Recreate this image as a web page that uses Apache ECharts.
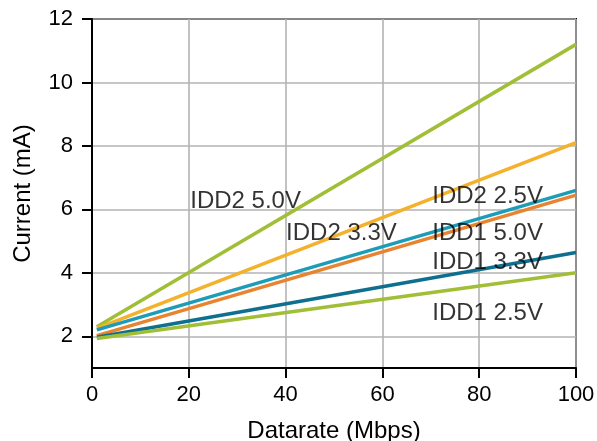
<!DOCTYPE html>
<html>
<head>
<meta charset="utf-8">
<script src="https://cdn.jsdelivr.net/npm/echarts@6/dist/echarts.min.js"></script>
<style>html,body{margin:0;padding:0;background:#fff}#c{width:597px;height:441px}</style>
</head>
<body>
<div id="c"></div>
<script>
var seriesNames = ['IDD2 5.0V', 'IDD2 3.3V', 'IDD2 2.5V', 'IDD1 5.0V', 'IDD1 3.3V', 'IDD1 2.5V'];
var datarates = [1, 100];
var idd2_50 = [2.3, 11.2];
var idd2_33 = [2.25, 8.1];
var idd2_25 = [2.2, 6.6];
var idd1_50 = [2.02, 6.45];
var idd1_33 = [1.97, 4.64];
var idd1_25 = [1.93, 4.0];
var seriesValues = [idd2_50, idd2_33, idd2_25, idd1_50, idd1_33, idd1_25];
var colors = ['#a1bf36', '#f4b22c', '#1d9cb8', '#e8842f', '#0e6f8f', '#a1bf36'];
var yTicks = [2, 4, 6, 8, 10, 12];
// label anchor positions (data coords) for annotations
var labelX = [20.3, 40.1, 70.3, 70.3, 70.3, 70.3];
var labelY = [6.25, 5.25, 6.42, 5.23, 4.32, 2.73];

var FONT = 'Liberation Sans, Arial, sans-serif';
var FS = 22;
var FS_BIG = 24;

var series = seriesValues.map(function (vals, i) {
  return {
    name: seriesNames[i],
    type: 'line',
    data: datarates.map(function (x, j) { return [x, vals[j]]; }),
    symbol: 'none',
    lineStyle: { color: colors[i], width: 3.5 },
    z: 3 + i,
    silent: true
  };
});
series.push({
  type: 'scatter',
  symbolSize: 0,
  z: 20,
  silent: true,
  data: seriesNames.map(function (n, i) { return { value: [labelX[i], labelY[i]], name: n }; }),
  label: {
    show: true, position: 'right', distance: 0,
    formatter: function (p) { return p.name; },
    color: '#000', fontFamily: FONT, fontSize: FS_BIG
  }
});

var chart = echarts.init(document.getElementById('c'), null, { renderer: 'canvas' });
chart.setOption({
  animation: false,
  backgroundColor: '#fff',
  grid: { left: 92, right: 21, top: 19, bottom: 73, containLabel: false, outerBoundsMode: 'none', show: true, borderColor: '#000', borderWidth: 2, backgroundColor: 'transparent' },
  xAxis: {
    type: 'value', min: 0, max: 100, interval: 20,
    name: 'Datarate (Mbps)', nameLocation: 'middle', nameGap: 51,
    nameTextStyle: { color: '#000', fontFamily: FONT, fontSize: FS_BIG },
    axisLine: { show: true, lineStyle: { color: '#000', width: 2 } },
    axisTick: { show: true, inside: false, length: 10, lineStyle: { color: '#000', width: 2 } },
    axisLabel: { color: '#000', fontFamily: FONT, fontSize: FS, margin: 16 },
    splitLine: { show: true, lineStyle: { color: '#b3b3b3', width: 1.6 } }
  },
  yAxis: {
    type: 'value', min: 1, max: 12,
    name: 'Current (mA)', nameLocation: 'middle', nameGap: 57, nameRotate: 90,
    nameTextStyle: { color: '#000', fontFamily: FONT, fontSize: FS_BIG },
    axisLine: { show: true, lineStyle: { color: '#000', width: 2 } },
    axisTick: { show: true, inside: false, length: 10, lineStyle: { color: '#000', width: 2 }, customValues: yTicks },
    axisLabel: { color: '#000', fontFamily: FONT, fontSize: FS, margin: 19, customValues: yTicks },
    splitLine: { show: true, lineStyle: { color: '#b3b3b3', width: 1.6 } }
  },
  series: series
});
</script>
</body>
</html>
